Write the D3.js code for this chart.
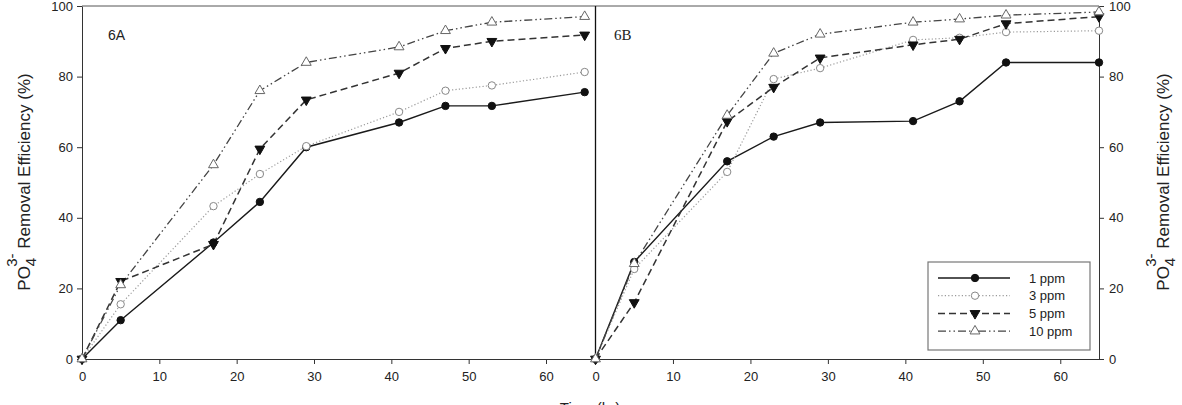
<!DOCTYPE html>
<html lang="en">
<head>
    <meta charset="utf-8">
    <title>PO4 removal</title>
    <script type="text/javascript" src="https://d3js.org/d3.v7.min.js"></script>
    <style>
        body { margin: 0; background: #fff; }
        svg text { font-family: "Liberation Sans", Arial, sans-serif; fill: #222; }
        .axis path, .axis line { stroke: #333; }
        .axis text { font-size: 13px; }
    </style>
</head>
<body>
    <div id="chart"></div>
    <script type="text/javascript">
        // sampling times (hr), same for both panels
        const times = [0, 5, 17, 23, 29, 41, 47, 53, 65];
        const seriesNames = ["1 ppm", "3 ppm", "5 ppm", "10 ppm"];

        // panel 6A
        const a1 = [0, 11, 33, 44.5, 60, 67, 71.7, 71.7, 75.6];
        const a3 = [0, 15.5, 43.3, 52.4, 60.3, 70, 76, 77.5, 81.3];
        const a5 = [0, 22, 32.5, 59.5, 73.4, 81, 88, 90, 91.8];
        const a10 = [0, 21, 55, 76, 84, 88.4, 93, 95.4, 97];

        // panel 6B
        const b1 = [0, 27.5, 56, 63, 67, 67.4, 73, 84, 84];
        const b3 = [0, 25.5, 53, 79.3, 82.4, 90.4, 91, 92.6, 93];
        const b5 = [0, 16, 67.3, 77, 85.3, 89, 90.6, 95, 97];
        const b10 = [0, 27, 69, 86.6, 92, 95.4, 96.3, 97.4, 98.3];

        const xTicks = [0, 10, 20, 30, 40, 50, 60];
        const yTicks = [0, 20, 40, 60, 80, 100];

        const width = 1182, height = 405;
        const plotTop = 6, plotBottom = 359;
        const leftX = 82, midX = 595.5, rightX = 1099;

        const styles = [
            {stroke: "#1a1a1a", dash: null, w: 1.4, marker: "circle", fill: "#111"},
            {stroke: "#9a9a9a", dash: "1.2,2.2", w: 1.2, marker: "circle", fill: "#fff"},
            {stroke: "#333", dash: "7,4", w: 1.5, marker: "tridown", fill: "#111"},
            {stroke: "#444", dash: "8,3,1.5,3,1.5,3", w: 1.3, marker: "triup", fill: "#fff"}
        ];

        const svg = d3.select("#chart").append("svg")
            .attr("width", width).attr("height", height);

        const y = d3.scaleLinear().domain([0, 100]).range([plotBottom, plotTop]);
        const xA = d3.scaleLinear().domain([0, 66.4]).range([leftX, midX]);
        const xB = d3.scaleLinear().domain([0, 65]).range([midX, rightX]);

        // axes
        svg.append("g").attr("class", "axis")
            .attr("transform", `translate(${leftX},0)`)
            .call(d3.axisLeft(y).tickValues(yTicks).tickSize(5).tickSizeOuter(0).tickPadding(4));
        svg.append("g").attr("class", "axis")
            .attr("transform", `translate(${rightX},0)`)
            .call(d3.axisRight(y).tickValues(yTicks).tickSize(5).tickSizeOuter(0).tickPadding(5));
        svg.append("g").attr("class", "axis")
            .attr("transform", `translate(0,${plotBottom})`)
            .call(d3.axisBottom(xA).tickValues(xTicks).tickSize(5).tickSizeOuter(0).tickPadding(8));
        svg.append("g").attr("class", "axis")
            .attr("transform", `translate(0,${plotBottom})`)
            .call(d3.axisBottom(xB).tickValues(xTicks).tickSize(5).tickSizeOuter(0).tickPadding(8));

        // frame: top line and the shared middle border
        svg.append("line").attr("x1", leftX).attr("x2", rightX)
            .attr("y1", plotTop).attr("y2", plotTop).attr("stroke", "#555");
        svg.append("line").attr("x1", midX).attr("x2", midX)
            .attr("y1", plotTop).attr("y2", plotBottom).attr("stroke", "#111").attr("stroke-width", 1.3);

        function marker(g, type, fill, cx, cy) {
            if (type === "circle") {
                g.append("circle").attr("cx", cx).attr("cy", cy).attr("r", 3.7)
                    .attr("fill", fill).attr("stroke", fill === "#fff" ? "#888" : "#111").attr("stroke-width", 1);
            } else {
                const sym = d3.symbol().type(d3.symbolTriangle).size(42);
                g.append("path").attr("d", sym())
                    .attr("transform", `translate(${cx},${cy})` + (type === "tridown" ? " rotate(180)" : ""))
                    .attr("fill", fill).attr("stroke", fill === "#fff" ? "#666" : "#111").attr("stroke-width", 1);
            }
        }

        function plotPanel(x, data) {
            const g = svg.append("g");
            data.forEach((vals, i) => {
                const s = styles[i];
                const line = d3.line().x((d, j) => x(times[j])).y(d => y(d));
                g.append("path").datum(vals).attr("d", line)
                    .attr("fill", "none").attr("stroke", s.stroke)
                    .attr("stroke-width", s.w).attr("stroke-dasharray", s.dash);
            });
            data.forEach((vals, i) => {
                const s = styles[i];
                vals.forEach((v, j) => marker(g, s.marker, s.fill, x(times[j]), y(v)));
            });
        }

        plotPanel(xA, [a1, a3, a5, a10]);
        plotPanel(xB, [b1, b3, b5, b10]);

        // panel labels
        svg.append("text").attr("x", 108).attr("y", 40).attr("font-size", 14).text("6A");
        svg.append("text").attr("x", 614).attr("y", 40).attr("font-size", 15)
            .style("font-family", "'Liberation Serif', serif").text("6B");

        // y titles
        function yTitle(cx) {
            const t = svg.append("text")
                .attr("transform", `translate(${cx},182) rotate(-90)`)
                .attr("text-anchor", "middle").attr("font-size", 17);
            t.append("tspan").text("PO");
            t.append("tspan").attr("font-size", 15).attr("dy", 6).text("4");
            t.append("tspan").attr("font-size", 15).attr("dx", -9).attr("dy", -19).text("3-");
            t.append("tspan").attr("dy", 13).text(" Removal Efficiency (%)");
        }
        yTitle(30);
        yTitle(1169);

        // x title (cut by the bottom edge)
        svg.append("text").attr("x", 590).attr("y", 413).attr("text-anchor", "middle")
            .attr("font-size", 15).text("Time (hr)");

        // legend
        const lg = svg.append("g");
        lg.append("rect").attr("x", 928).attr("y", 262).attr("width", 162).attr("height", 88)
            .attr("fill", "#fff").attr("stroke", "#777").attr("stroke-width", 1.2);
        seriesNames.forEach((name, i) => {
            const s = styles[i];
            const ly = 278 + i * 17.7;
            lg.append("line").attr("x1", 938).attr("x2", 1010).attr("y1", ly).attr("y2", ly)
                .attr("stroke", s.stroke).attr("stroke-width", s.w).attr("stroke-dasharray", s.dash);
            marker(lg, s.marker, s.fill, 975, ly);
            lg.append("text").attr("x", 1029).attr("y", ly + 4.5).attr("font-size", 13).text(name);
        });
    </script>
</body>
</html>
